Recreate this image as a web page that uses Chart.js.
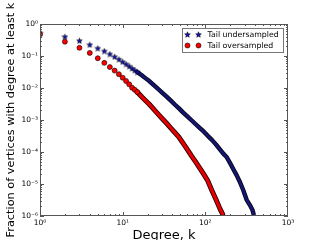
<!DOCTYPE html>
<html><head><meta charset="utf-8">
<style>html,body{margin:0;padding:0;background:#fff;overflow:hidden}</style>
<script src="https://cdn.jsdelivr.net/npm/chart.js@4/dist/chart.umd.min.js"></script>
</head><body>
<canvas id="c" width="320" height="240"></canvas>
<script>
// ---- data ----
const xTickValues = [1, 10, 100, 1000];
const xTickLabels = ['10⁰', '10¹', '10²', '10³'];
const yTickValues = [1e-6, 1e-5, 1e-4, 1e-3, 1e-2, 1e-1, 1];
const yTickLabels = ['10⁻⁶', '10⁻⁵', '10⁻⁴', '10⁻³', '10⁻²', '10⁻¹', '10⁰'];
const seriesNames = ['Tail undersampled', 'Tail oversampled'];
const xTitle = 'Degree, k';
const yTitle = 'Fraction of vertices with degree at least k';

const underK = [1,2,3,4,5,6,7,8,9,10,11,12,13,14,15,17,19,21,24,27,30,34,38,43,48,54,61,68,76,86,96,107,120,135,150,166,181,200,220,239,260,287,316,346,373,385];
const underFrac = [0.52,0.40,0.30,0.225,0.175,0.143,0.115,0.095,0.079,0.066,0.056,0.048,0.041,0.036,0.0316,0.025,0.020,0.0165,0.012,0.0092,0.0072,0.0054,0.0041,0.0030,0.0023,0.0017,0.00128,0.00098,0.00075,0.00056,0.00043,0.00032,0.00024,0.00017,0.00012,0.000087,0.000070,0.000044,0.000028,0.000019,0.000012,0.0000065,0.0000032,0.0000022,0.0000015,0.0000011];

const overK = [1,2,3,4,5,6,7,8,9,10,11,12,13,14,15,17,19,21,24,27,30,34,38,43,48,54,61,68,76,86,96,107,120,135,150,162];
const overFrac = [0.48,0.28,0.18,0.125,0.085,0.061,0.045,0.035,0.027,0.021,0.0165,0.013,0.0102,0.0088,0.0075,0.0053,0.0040,0.0031,0.0021,0.0015,0.00112,0.00079,0.00057,0.00040,0.00029,0.000187,0.000117,0.000076,0.00005,0.000031,0.00002,0.0000126,0.0000063,0.0000032,0.0000017,0.00000115];

// ---- styles ----
const FONT = '"DejaVu Sans", "Liberation Sans", sans-serif';
const BLUE_FILL = '#1212b0', BLUE_LINE = '#161670';
const RED_FILL = '#ff0000', RED_LINE = '#e40000';
const DENSE_FROM = 15;

function starImg(size, fill, stroke) {
  const c = document.createElement('canvas');
  c.width = size; c.height = size;
  const g = c.getContext('2d');
  const cx = size / 2, cy = size / 2 + 0.3, R = size / 2 - 0.5, r = R * 0.45;
  g.beginPath();
  for (let i = 0; i < 10; i++) {
    const a = -Math.PI / 2 + i * Math.PI / 5;
    const rr = i % 2 ? r : R;
    g.lineTo(cx + rr * Math.cos(a), cy + rr * Math.sin(a));
  }
  g.closePath();
  g.fillStyle = fill; g.fill();
  g.lineWidth = 0.5; g.strokeStyle = stroke; g.stroke();
  return c;
}
const STAR = starImg(7, BLUE_FILL, '#000');

function pts(ks, vs) { return ks.map((k, i) => ({x: k, y: vs[i]})); }
const bandColor = col => (c => c.p0.parsed.x < DENSE_FROM ? 'transparent' : col);
const sparseRadius = r => (c => (c.raw && c.raw.x <= DENSE_FROM) ? r : 0);

const frame = {
  id: 'frame',
  afterDatasetsDraw(chart) {
    const {ctx, chartArea: a, scales} = chart;
    ctx.save();
    ctx.strokeStyle = '#555';
    ctx.lineWidth = 1;
    ctx.strokeRect(a.left + 0.5, a.top + 0.5, a.right - a.left - 1, a.bottom - a.top - 1);
    ctx.beginPath();
    const xs = scales.x, ys = scales.y;
    for (let d = 0; d < 3; d++) {
      for (let m = 1; m <= 9; m++) {
        const v = m * Math.pow(10, d);
        const px = Math.round(xs.getPixelForValue(v)) + 0.5;
        const L = m === 1 ? 4 : 2;
        ctx.moveTo(px, a.bottom); ctx.lineTo(px, a.bottom - L);
        ctx.moveTo(px, a.top); ctx.lineTo(px, a.top + L);
      }
    }
    for (let d = -6; d < 0; d++) {
      for (let m = 1; m <= 9; m++) {
        const v = m * Math.pow(10, d);
        const py = Math.round(ys.getPixelForValue(v)) + 0.5;
        const L = m === 1 ? 4 : 2;
        ctx.moveTo(a.left, py); ctx.lineTo(a.left + L, py);
        ctx.moveTo(a.right, py); ctx.lineTo(a.right - L, py);
      }
    }
    ctx.stroke();
    ctx.restore();
  }
};

const legendBox = {
  id: 'legendBox',
  afterDraw(chart) {
    const {ctx, chartArea: a} = chart;
    const w = 101, h = 24;
    const x = a.right - 5 - w, y = a.top + 4;
    ctx.save();
    ctx.fillStyle = '#fff';
    ctx.fillRect(x, y, w, h);
    ctx.strokeStyle = '#777';
    ctx.lineWidth = 1;
    ctx.strokeRect(x + 0.5, y + 0.5, w, h);
    const rows = [y + 6.5, y + 17.5];
    [x + 5.5, x + 16.5].forEach(mx => {
      ctx.drawImage(STAR, mx - 3.5, rows[0] - 3.5);
      ctx.beginPath();
      ctx.arc(mx, rows[1], 2.5, 0, Math.PI * 2);
      ctx.fillStyle = RED_FILL; ctx.fill();
      ctx.lineWidth = 0.6; ctx.strokeStyle = '#000'; ctx.stroke();
    });
    ctx.fillStyle = '#000';
    ctx.font = '7.8px ' + FONT;
    ctx.textBaseline = 'middle';
    ctx.textAlign = 'left';
    ctx.fillText(seriesNames[0], x + 25.5, rows[0]);
    ctx.fillText(seriesNames[1], x + 25.5, rows[1]);
    ctx.restore();
  }
};

const lineCommon = { showLine: true, borderJoinStyle: 'round', borderCapStyle: 'round' };

new Chart(document.getElementById('c'), {
  type: 'scatter',
  data: {
    datasets: [
      Object.assign({
        label: seriesNames[0],
        data: pts(underK, underFrac),
        order: 2,
        borderWidth: 2.6,
        borderColor: BLUE_LINE,
        segment: { borderColor: bandColor(BLUE_LINE) },
        pointStyle: STAR,
        pointRadius: sparseRadius(3),
        pointBackgroundColor: BLUE_FILL,
        pointBorderColor: '#000',
        pointBorderWidth: 0.5
      }, lineCommon),
      Object.assign({
        label: seriesNames[0] + ' edge',
        data: pts(underK, underFrac),
        order: 3,
        borderWidth: 4.4,
        borderColor: '#000',
        segment: { borderColor: bandColor('#05051e') },
        pointRadius: 0
      }, lineCommon),
      Object.assign({
        label: seriesNames[1],
        data: pts(overK, overFrac),
        order: 0,
        borderWidth: 3.2,
        borderColor: RED_LINE,
        segment: { borderColor: bandColor(RED_LINE) },
        pointStyle: 'circle',
        pointRadius: sparseRadius(2.5),
        pointBackgroundColor: RED_FILL,
        pointBorderColor: '#000',
        pointBorderWidth: 0.6
      }, lineCommon),
      Object.assign({
        label: seriesNames[1] + ' edge',
        data: pts(overK, overFrac),
        order: 1,
        borderWidth: 5,
        borderColor: '#000',
        segment: { borderColor: bandColor('#2a0000') },
        pointRadius: 0
      }, lineCommon)
    ]
  },
  options: {
    responsive: false,
    animation: false,
    devicePixelRatio: 1,
    layout: { padding: { left: 0, top: 24, right: 32, bottom: 0 } },
    plugins: { legend: { display: false }, tooltip: { enabled: false } },
    scales: {
      x: {
        type: 'logarithmic',
        min: 1, max: 1000,
        afterBuildTicks: s => { s.ticks = xTickValues.map(v => ({value: v})); },
        afterFit: s => { s.height = 24; },
        grid: { display: false, drawTicks: false },
        border: { display: false },
        ticks: {
          autoSkip: false, maxRotation: 0, padding: 3,
          color: '#000',
          font: { family: FONT, size: 7.5 },
          callback: (v) => { const i = xTickValues.indexOf(v); return i >= 0 ? xTickLabels[i] : ''; }
        },
        title: {
          display: true, text: xTitle, color: '#000',
          font: { family: FONT, size: 13, lineHeight: 0.68 },
          padding: { top: 0, bottom: 0 }
        }
      },
      y: {
        type: 'logarithmic',
        min: 1e-6, max: 1,
        afterBuildTicks: s => { s.ticks = yTickValues.map(v => ({value: v})); },
        afterFit: s => { s.width = 40; },
        grid: { display: false, drawTicks: false },
        border: { display: false },
        ticks: {
          autoSkip: false, padding: 2,
          color: '#000',
          font: { family: FONT, size: 7.5 },
          callback: (v) => { const i = yTickValues.findIndex(t => Math.abs(Math.log10(t) - Math.log10(v)) < 1e-6); return i >= 0 ? yTickLabels[i] : ''; }
        },
        title: {
          display: true, text: yTitle, color: '#000',
          font: { family: FONT, size: 11.3, lineHeight: 1.2 },
          padding: { top: 4, bottom: 0 }
        }
      }
    }
  },
  plugins: [frame, legendBox]
});
</script>
</body></html>
